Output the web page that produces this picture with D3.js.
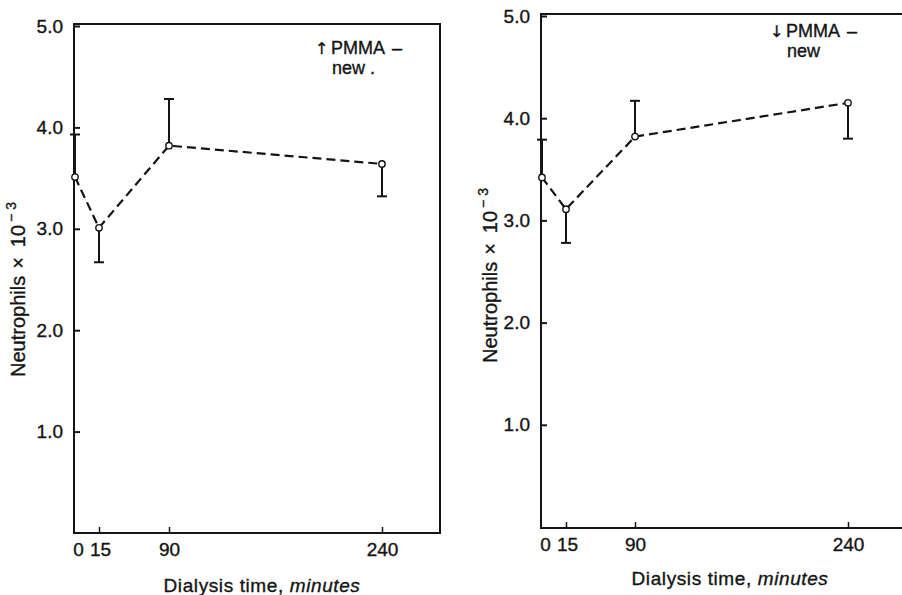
<!DOCTYPE html>
<html>
<head>
<meta charset="utf-8">
<script src="https://cdn.jsdelivr.net/npm/d3@7"></script>
<style>
  body { margin: 0; background: #fff; }
  svg { display: block; font-family: "Liberation Sans", Arial, sans-serif; }
  svg text { stroke: #141414; stroke-width: 0.35px; }
</style>
</head>
<body>
<svg id="chart" width="902" height="595"></svg>
<script>
// dialysis time points (minutes)
const times = [0, 15, 90, 240];
const yTicks = [1, 2, 3, 4, 5];

// left panel: PMMA new (increase)
const leftMean = [3.51, 3.01, 3.82, 3.64];
const leftBar = [3.93, 2.67, 4.28, 3.32];
const leftLegend = ["\u2191", "PMMA", "\u2013", "new  ."];

// right panel: PMMA new (decrease)
const rightMean = [3.42, 3.11, 3.82, 4.15];
const rightBar = [3.79, 2.78, 4.17, 3.80];
const rightLegend = ["\u2193", "PMMA", "\u2013", "new"];

const svg = d3.select("#chart");
const ink = "#141414";
const font = "Liberation Sans, Arial, sans-serif";

const panels = [
  { mean: leftMean, bar: leftBar, legend: leftLegend,
    xr: [75, 99, 169, 382], frame: [74, 24, 440, 533], yr: [533, 26],
    legendX: 315, legendY: 54, titleX: 262, titleY: 592, labelX: 25, labelY: 377 },
  { mean: rightMean, bar: rightBar, legend: rightLegend,
    xr: [542, 566, 635, 848], frame: [541, 14, 915, 528], yr: [527, 16],
    legendX: 770, legendY: 37, titleX: 730, titleY: 585, labelX: 497, labelY: 363 }
];

panels.forEach(p => {
  const x = d3.scaleLinear().domain(times).range(p.xr);
  const y = d3.scaleLinear().domain([0, 5]).range(p.yr);
  const g = svg.append("g");

  // frame
  const [fx0, fy0, fx1, fy1] = p.frame;
  g.append("path")
    .attr("d", `M${fx0},${fy1}L${fx0},${fy0}L${fx1},${fy0}L${fx1},${fy1}Z`)
    .attr("fill", "none")
    .attr("stroke", ink)
    .attr("stroke-width", 2);

  // y axis, ticks point inward
  const ya = g.append("g")
    .attr("transform", `translate(${fx0},0)`)
    .call(d3.axisLeft(y).tickValues(yTicks).tickFormat(d3.format(".1f"))
      .tickSize(-6).tickSizeOuter(0).tickPadding(11));
  ya.select(".domain").remove();
  ya.selectAll("line").attr("stroke", ink).attr("stroke-width", 2);
  ya.selectAll("text").attr("font-size", 19).attr("fill", ink).attr("font-family", font);

  // x axis, ticks point inward
  const xa = g.append("g")
    .attr("transform", `translate(0,${fy1})`)
    .call(d3.axisBottom(x).tickValues(times).tickFormat(d3.format("d"))
      .tickSize(-6).tickSizeOuter(0).tickPadding(10));
  xa.select(".domain").remove();
  xa.selectAll("line").attr("stroke", ink).attr("stroke-width", 1.5);
  xa.selectAll(".tick").filter(d => d === 0).select("line").remove();
  xa.selectAll("text").attr("font-size", 19).attr("fill", ink).attr("font-family", font);
  xa.selectAll(".tick").filter(d => d === 0).select("text").attr("dx", 3);
  xa.selectAll(".tick").filter(d => d === 15).select("text").attr("dx", 1);

  const pts = times.map((t, i) => ({ t, m: p.mean[i], b: p.bar[i] }));

  // one-sided error bars
  const eb = g.selectAll(".eb").data(pts).enter().append("g");
  eb.append("line")
    .attr("x1", d => x(d.t)).attr("x2", d => x(d.t))
    .attr("y1", d => y(d.m)).attr("y2", d => y(d.b))
    .attr("stroke", ink).attr("stroke-width", 2);
  eb.append("line")
    .attr("x1", d => x(d.t) - 5).attr("x2", d => x(d.t) + 5)
    .attr("y1", d => y(d.b)).attr("y2", d => y(d.b))
    .attr("stroke", ink).attr("stroke-width", 2);

  // dashed mean line
  g.append("path")
    .datum(pts)
    .attr("d", d3.line().x(d => x(d.t)).y(d => y(d.m)))
    .attr("fill", "none")
    .attr("stroke", ink)
    .attr("stroke-width", 2.2)
    .attr("stroke-dasharray", "9,5");

  // open circles
  g.selectAll(".pt").data(pts).enter().append("circle")
    .attr("cx", d => x(d.t)).attr("cy", d => y(d.m)).attr("r", 3.2)
    .attr("fill", "#fff").attr("stroke", ink).attr("stroke-width", 1.4);

  // legend text
  const lx = p.legendX, ly = p.legendY;
  g.append("text").attr("x", lx).attr("y", ly).attr("font-size", 16)
    .attr("font-family", "DejaVu Sans, sans-serif").attr("fill", ink).text(p.legend[0]);
  g.append("text").attr("x", lx + 16).attr("y", ly).attr("font-size", 18)
    .attr("fill", ink).text(p.legend[1]);
  g.append("text").attr("x", lx + 77).attr("y", ly).attr("font-size", 18)
    .attr("fill", ink).text(p.legend[2]);
  g.append("text").attr("x", lx + 17).attr("y", ly + 20).attr("font-size", 18)
    .attr("fill", ink).text(p.legend[3]);

  // x title
  const xt = g.append("text")
    .attr("x", p.titleX).attr("y", p.titleY)
    .attr("text-anchor", "middle").attr("font-size", 19)
    .attr("letter-spacing", 0.6).attr("fill", ink);
  xt.append("tspan").text("Dialysis time, ");
  xt.append("tspan").attr("font-style", "italic").text("minutes");

  // y title, reads bottom to top
  const yt = g.append("text")
    .attr("transform", `translate(${p.labelX},${p.labelY}) rotate(-90)`)
    .attr("font-size", 20).attr("fill", ink);
  yt.append("tspan").text("Neutrophils");
  yt.append("tspan").attr("dx", 7).text("\u00d7");
  yt.append("tspan").attr("dx", 10).text("10");
  yt.append("tspan").attr("dx", 3).attr("dy", -9).attr("font-size", 14).text("\u2212 3");
});
</script>
</body>
</html>
